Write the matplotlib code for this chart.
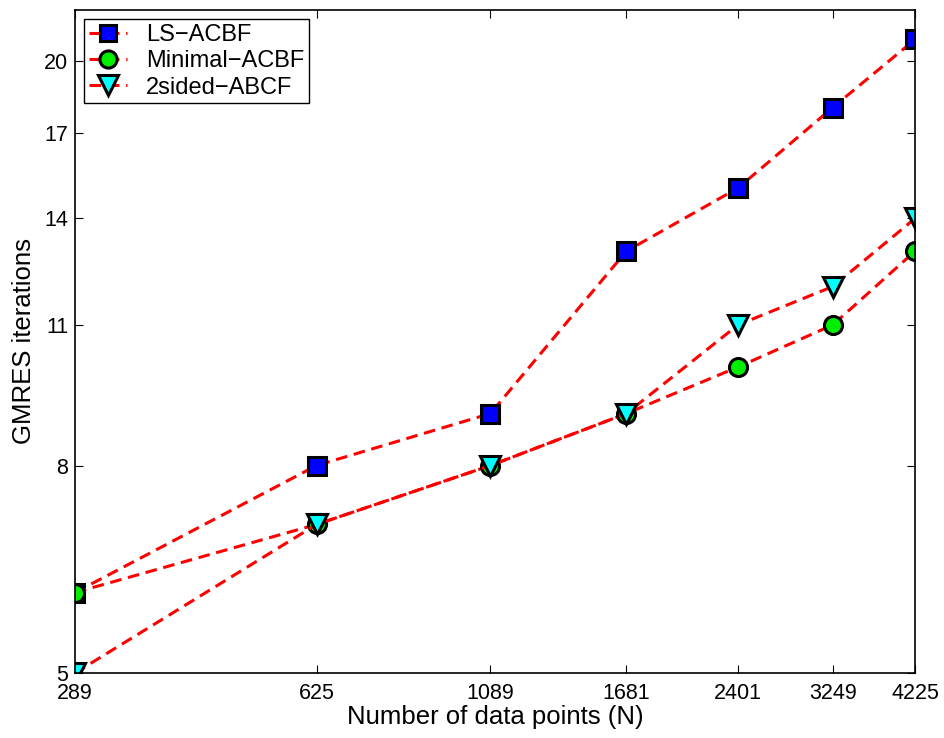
import matplotlib
matplotlib.use("Agg")
import matplotlib.pyplot as plt
from matplotlib.ticker import FixedLocator, NullLocator, FixedFormatter

plt.rcParams['font.family'] = ['Liberation Sans', 'DejaVu Sans']

# problem sizes and iteration counts
n_points = [289, 625, 1089, 1681, 2401, 3249, 4225]
ls_acbf = [6, 8, 9, 13, 15, 18, 21]
minimal_acbf = [6, 7, 8, 9, 10, 11, 13]
two_sided = [5, 7, 8, 9, 11, 12, 14]

y_ticks = [5, 8, 11, 14, 17, 20]

fig = plt.figure(figsize=(9.44, 7.38), dpi=100)
ax = fig.add_axes([75/944, 65/738, 840/944, 663/738])

common = dict(color='red', linestyle='--', linewidth=2.2, dashes=(3.8, 2.2),
              markeredgewidth=2.2, markeredgecolor='black')
ax.loglog(n_points, ls_acbf, marker='s', markersize=12.5, markerfacecolor='blue',
          label='LS\u2212ACBF', **common)
ax.loglog(n_points, minimal_acbf, marker='o', markersize=13, markerfacecolor='#00ee00',
          label='Minimal\u2212ACBF', **common)
ax.loglog(n_points, two_sided, marker='v', markersize=15, markerfacecolor='cyan',
          label='2sided\u2212ABCF', **common)

ax.set_xlim(289, 4225)
ax.set_ylim(5, 22.45)
ax.xaxis.set_major_locator(FixedLocator(n_points))
ax.xaxis.set_major_formatter(FixedFormatter([str(v) for v in n_points]))
ax.xaxis.set_minor_locator(NullLocator())
ax.yaxis.set_major_locator(FixedLocator(y_ticks))
ax.yaxis.set_major_formatter(FixedFormatter([str(v) for v in y_ticks]))
ax.yaxis.set_minor_locator(NullLocator())
ax.tick_params(direction='in', length=6, width=0.8, top=True, right=True, labelsize=15.5, pad=5)
ax.tick_params(axis='x', pad=7)
for s in ax.spines.values():
    s.set_linewidth(1.2)

ax.set_xlabel('Number of data points (N)', fontsize=18.5, labelpad=1)
ax.set_ylabel('GMRES iterations', fontsize=18.5, labelpad=6)

leg = ax.legend(loc='upper left', fontsize=17, fancybox=False, edgecolor='black',
                framealpha=1, handlelength=1.6, borderaxespad=0.4, labelspacing=0.18,
                borderpad=0.2, handletextpad=0.8, markerscale=0.95)
leg.get_frame().set_linewidth(1.0)

fig.savefig('out.png', dpi=100)
